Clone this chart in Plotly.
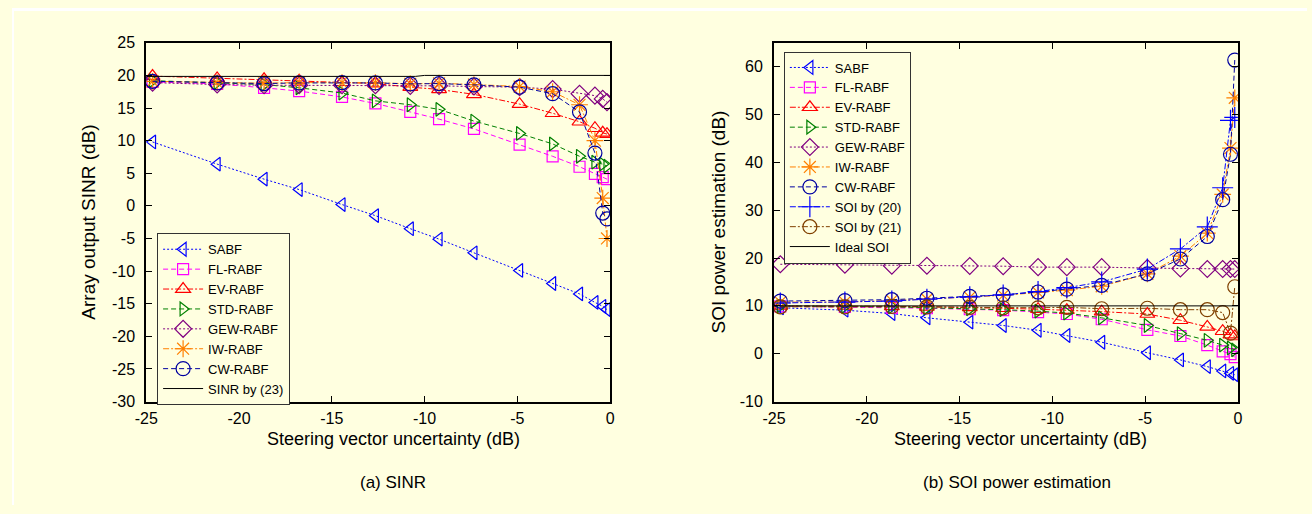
import plotly.graph_objects as go

# ---------------- data ----------------
X = [-24.66, -21.18, -18.65, -16.76, -14.45, -12.65, -10.77, -9.22, -7.34, -4.88, -3.10, -1.65, -0.82, -0.40, -0.17]

# (a) SINR
SABF_A = [9.8, 6.4, 4.1, 2.5, 0.2, -1.5, -3.5, -5.1, -7.2, -9.9, -11.9, -13.5, -14.8, -15.4, -15.9]
FL_A = [19.0, 18.7, 18.1, 17.6, 16.7, 15.7, 14.4, 13.3, 11.8, 9.4, 7.6, 6.0, 4.9, 4.4, 4.1]
EV_A = [19.9, 19.55, 19.4, 19.2, 18.95, 18.75, 18.2, 17.85, 17.1, 15.6, 14.2, 12.9, 11.9, 11.2, 11.0]
STD_A = [19.2, 18.9, 18.6, 18.1, 17.3, 16.1, 15.5, 14.8, 13.0, 11.1, 9.5, 7.6, 6.7, 6.4, 6.1]
GEW_A = [18.9, 18.6, 18.5, 18.5, 18.5, 18.5, 18.4, 18.4, 18.3, 18.2, 17.9, 17.2, 16.9, 16.4, 15.9]
IW_A = [19.1, 18.9, 18.8, 18.9, 18.9, 18.9, 18.7, 18.8, 18.6, 18.3, 17.5, 15.5, 10.0, 1.2, -5.0]
CW_A = [19.1, 18.85, 18.75, 18.85, 18.9, 18.85, 18.7, 18.75, 18.55, 18.2, 17.2, 14.4, 8.1, -1.1, -2.0]
X_SINR = [-25.0, -10.5, -10.0, 0.0]
SINR_23 = [19.85, 19.85, 20.0, 20.0]

# (b) SOI power estimation
SABF_B = [9.6, 9.1, 8.4, 7.5, 6.6, 5.9, 4.9, 3.8, 2.4, 0.2, -1.3, -2.7, -3.6, -4.1, -4.4]
FL_B = [9.9, 9.8, 9.6, 9.5, 9.3, 9.1, 8.7, 8.3, 7.2, 5.0, 3.7, 1.8, 0.5, -0.1, -0.7]
EV_B = [10.0, 10.0, 9.9, 9.8, 9.7, 9.5, 9.3, 9.1, 8.8, 8.3, 7.0, 5.6, 4.7, 4.0, 3.6]
STD_B = [10.0, 9.9, 9.8, 9.6, 9.4, 9.2, 8.9, 8.5, 7.5, 5.9, 4.2, 2.8, 1.8, 1.2, 0.8]
GEW_B = [18.7, 18.6, 18.4, 18.4, 18.35, 18.3, 18.1, 18.1, 18.1, 17.9, 17.8, 17.7, 17.7, 17.7, 17.7]
IW_B = [10.8, 10.8, 11.1, 11.4, 11.8, 12.2, 12.8, 13.3, 14.1, 16.7, 20.4, 25.2, 33.3, 43.0, 53.5]
CW_B = [11.0, 11.1, 11.3, 11.6, 12.0, 12.3, 12.9, 13.5, 14.3, 16.7, 19.8, 24.5, 32.2, 41.7, 61.4]
SOI_20 = [10.6, 10.8, 11.0, 11.4, 11.9, 12.3, 13.0, 13.8, 15.0, 17.7, 21.9, 26.5, 34.7, 48.8, 49.4]
SOI_21 = [9.8, 9.8, 9.9, 9.8, 9.7, 9.6, 9.6, 9.7, 9.4, 9.5, 9.2, 9.2, 8.6, 4.3, 14.0]
X_IDEAL = [-25.0, 0.0]
IDEAL_SOI = [10.0, 10.0]

X_TICKS = [-25, -20, -15, -10, -5, 0]
X_TICKTEXT = ["-25", "-20", "-15", "-10", "-5", "0"]
YA_TICKS = [25, 20, 15, 10, 5, 0, -5, -10, -15, -20, -25, -30]
YA_TICKTEXT = ["25", "20", "15", "10", "5", "0", "-5", "-10", "-15", "-20", "-25", "-30"]
YB_TICKS = [60, 50, 40, 30, 20, 10, 0, -10]
YB_TICKTEXT = ["60", "50", "40", "30", "20", "10", "0", "-10"]

# ---------------- styles ----------------
DOT = "2px,2px"
DASH = "5px,3px"
DASHDOT = "6px,2px,2px,2px"
FONT = "Liberation Sans, Arial, Helvetica, sans-serif"
BG = "#FFFFE0"
W, H = 1312, 514

STYLE = {
    "SABF": ("#0000FF", "triangle-left-open", DOT, 12),
    "FL-RABF": ("#FF00FF", "square-open", DASH, 11),
    "EV-RABF": ("#FF0000", "triangle-up-open", DASHDOT, 13),
    "STD-RABF": ("#008000", "triangle-right-open", DASH, 12),
    "GEW-RABF": ("#800080", "diamond-open", DOT, 13),
    "IW-RABF": ("#FF8000", "asterisk-open", DASHDOT, 14),
    "CW-RABF": ("#0000A0", "circle-open", DASH, 14),
    "SOI by (20)": ("#0000FF", "cross-thin-open", DASHDOT, 15),
    "SOI by (21)": ("#804000", "circle-open", DASHDOT, 14),
}

fig = go.Figure()


def add(name, y, xa, ya, legend):
    color, sym, dash, size = STYLE[name]
    fig.add_trace(go.Scatter(
        x=X, y=y, name=name, mode="lines+markers",
        xaxis=xa, yaxis=ya, legend=legend,
        line=dict(color=color, width=1, dash=dash),
        marker=dict(symbol=sym, size=size, color=color, line=dict(width=1.2, color=color)),
    ))


for nm, yy in [("SABF", SABF_A), ("FL-RABF", FL_A), ("EV-RABF", EV_A), ("STD-RABF", STD_A),
               ("GEW-RABF", GEW_A), ("IW-RABF", IW_A), ("CW-RABF", CW_A)]:
    add(nm, yy, "x", "y", "legend")
fig.add_trace(go.Scatter(x=X_SINR, y=SINR_23, name="SINR by (23)", mode="lines",
                         xaxis="x", yaxis="y", legend="legend",
                         line=dict(color="black", width=1)))

for nm, yy in [("SABF", SABF_B), ("FL-RABF", FL_B), ("EV-RABF", EV_B), ("STD-RABF", STD_B),
               ("GEW-RABF", GEW_B), ("IW-RABF", IW_B), ("CW-RABF", CW_B),
               ("SOI by (20)", SOI_20), ("SOI by (21)", SOI_21)]:
    add(nm, yy, "x2", "y2", "legend2")
fig.add_trace(go.Scatter(x=X_IDEAL, y=IDEAL_SOI, name="Ideal SOI", mode="lines",
                         xaxis="x2", yaxis="y2", legend="legend2",
                         line=dict(color="black", width=1)))


def px_x(p):
    return p / W


def px_y(p):
    return 1 - p / H


axis_common = dict(showline=True, linecolor="black", linewidth=2, mirror="allticks",
                   ticks="inside", ticklen=6, tickwidth=1, tickcolor="black",
                   showgrid=False, zeroline=False,
                   tickfont=dict(family=FONT, size=16, color="black"))

YD = [px_y(407), px_y(36)]
LEG = dict(bgcolor=BG, bordercolor="#333333", borderwidth=1, xanchor="left", yanchor="top",
           font=dict(family=FONT, size=13, color="black"), itemwidth=40)
fig.update_layout(
    width=W, height=H, margin=dict(l=0, r=0, t=0, b=0),
    paper_bgcolor=BG, plot_bgcolor=BG,
    font=dict(family=FONT, color="black"),
    xaxis=dict(domain=[px_x(136), px_x(606)], range=[-25, 0], anchor="y",
               tickvals=X_TICKS, ticktext=X_TICKTEXT, ticklabelstandoff=1, **axis_common),
    yaxis=dict(domain=YD, range=[-30, 25], anchor="x",
               tickvals=YA_TICKS, ticktext=YA_TICKTEXT, ticklabelstandoff=6, **axis_common),
    xaxis2=dict(domain=[px_x(772), px_x(1242)], range=[-25, 0], anchor="y2",
                tickvals=X_TICKS, ticktext=X_TICKTEXT, ticklabelstandoff=1, **axis_common),
    yaxis2=dict(domain=YD, range=[-10, 65], anchor="x2",
                tickvals=YB_TICKS, ticktext=YB_TICKTEXT, ticklabelstandoff=6, **axis_common),
    legend=dict(x=px_x(147), y=px_y(233), **LEG),
    legend2=dict(x=px_x(782), y=px_y(45), **LEG),
    showlegend=True,
)

# thin white page edge along the top and left, as in the reference
fig.add_shape(type="rect", xref="paper", yref="paper", x0=0, x1=1, y0=px_y(3), y1=1,
              fillcolor="white", line=dict(width=0), layer="below")
fig.add_shape(type="rect", xref="paper", yref="paper", x0=0, x1=px_x(2), y0=0, y1=1,
              fillcolor="white", line=dict(width=0), layer="below")

ann = [
    ("Steering vector uncertainty (dB)", 387, 446, 0, 18),
    ("Steering vector uncertainty (dB)", 1022, 446, 0, 18),
    ("(a) SINR", 386, 491, 0, 17),
    ("(b) SOI power estimation", 1018, 491, 0, 17),
    ("Array output SINR (dB)", 78, 221, -90, 19),
    ("SOI power estimation (dB)", 716, 221, -90, 19),
]
for text, ax_, ay_, ang, sz in ann:
    fig.add_annotation(text=text, x=px_x(ax_), y=px_y(ay_), xref="paper", yref="paper",
                       showarrow=False, textangle=ang, xanchor="center", yanchor="middle",
                       font=dict(family=FONT, size=sz, color="black"))

fig.write_html("out.html")
